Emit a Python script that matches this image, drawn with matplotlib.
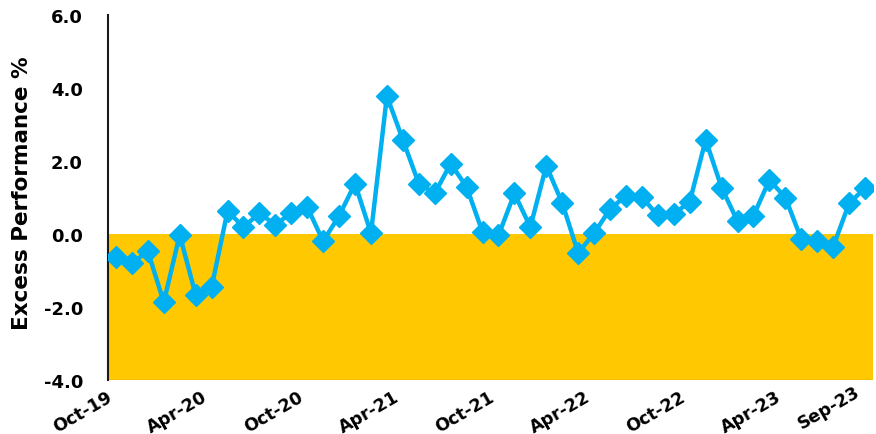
import numpy as np
import pandas as pd
import matplotlib
matplotlib.use("Agg")
import matplotlib.pyplot as plt
import matplotlib.transforms as mtransforms

# ── Data ──────────────────────────────────────────────────────────────
months = pd.date_range("2019-10-01", "2023-09-01", freq="MS")
excess = [
    -0.63, -0.80, -0.47, -1.87, -0.02, -1.67, -1.46, 0.63, 0.19, 0.57,
    0.25, 0.58, 0.74, -0.20, 0.50, 1.38, 0.02, 3.78, 2.58, 1.38,
    1.11, 1.93, 1.29, 0.05, -0.04, 1.11, 0.19, 1.87, 0.85, -0.52,
    0.02, 0.68, 1.05, 1.01, 0.51, 0.55, 0.88, 2.58, 1.27, 0.35,
    0.50, 1.48, 1.00, -0.14, -0.18, -0.35, 0.84, 1.26,
]
tick_idx = [0, 6, 12, 18, 24, 30, 36, 42, 47]
tick_labels = [months[i].strftime("%b-%y") for i in tick_idx]
yticks = [-4, -2, 0, 2, 4, 6]

BLUE = "#00B0F0"
YELLOW = "#FFC800"

plt.rcParams["font.family"] = ["DejaVu Sans"]
plt.rcParams["font.weight"] = "bold"

fig = plt.figure(figsize=(8.76, 4.35), dpi=100)
ax = fig.add_axes([108 / 876, 1 - 381 / 435, 765 / 876, 365 / 435])

x = np.arange(len(excess))
# negative zone shading
ax.fill_between([-0.5, len(excess) - 0.5], -4, 0, color=YELLOW, lw=0, zorder=1)
ax.plot([-0.5, len(excess) - 0.5], [-4, -4], color="#C9A000", lw=1, zorder=2)

ax.plot(x, excess, color=BLUE, lw=3.2, marker="D", ms=11, mec=BLUE, mfc=BLUE, zorder=5)

ax.set_xlim(-0.5, len(excess) - 0.5)
ax.set_ylim(-4, 6)
ax.set_yticks(yticks)
ax.set_yticklabels([f"{v:.1f}" for v in yticks], fontsize=13, fontweight="bold")
ax.set_xticks(tick_idx)
ax.set_xticklabels(tick_labels, rotation=30, ha="right", rotation_mode="anchor",
                   fontsize=12.5, fontweight="bold")
ax.tick_params(axis="both", length=0)
ax.tick_params(axis="x", pad=5)
ax.tick_params(axis="y", pad=18)

# nudge rotated labels left so they end at their tick (last one sits higher)
labels = ax.get_xticklabels()
for i, lbl in enumerate(labels):
    last = i == len(labels) - 1
    dx, dy = (-11, 5) if last else (-10, 0)
    shift = mtransforms.ScaledTranslation(dx / 100, dy / 100, fig.dpi_scale_trans)
    lbl.set_transform(lbl.get_transform() + shift)

for s in ["top", "right", "bottom"]:
    ax.spines[s].set_visible(False)
ax.spines["left"].set_color("#1a1a1a")
ax.spines["left"].set_linewidth(1.5)

fig.text(22 / 876, 1 - 193 / 435, "Excess Performance %", rotation=90,
         ha="center", va="center", fontsize=15.5, fontweight="bold")

fig.savefig("out.png", dpi=100)
